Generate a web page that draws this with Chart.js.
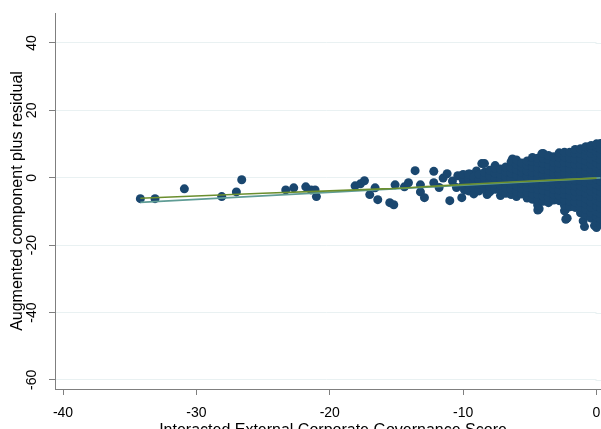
<!DOCTYPE html>
<html>
<head>
<meta charset="utf-8">
<script src="https://cdn.jsdelivr.net/npm/chart.js@4"></script>
<style>
  html, body { margin: 0; padding: 0; background: #fff; }
  #wrap { width: 601px; height: 429px; }
</style>
</head>
<body>
<div id="wrap"><canvas id="cpr" width="601" height="429"></canvas></div>
<script>
// axis ticks
const xTicks = [-40, -30, -20, -10, 0];
const yTicks = [40, 20, 0, -20, -40, -60];
const xTitle = 'Interacted External Corporate Governance Score';
const yTitle = 'Augmented component plus residual';

const sparsePts = [
  [-34.2, -6.2], [-33.1, -6.2], [-30.9, -3.3], [-28.1, -5.6], [-27.0, -4.2], [-26.6, -0.6],
  [-23.3, -3.6], [-22.7, -3.0], [-21.8, -2.7], [-21.4, -3.6], [-21.1, -3.6], [-21.0, -5.6],
  [-18.1, -2.4], [-17.7, -1.8], [-17.4, -0.9], [-16.6, -3.0], [-17.0, -5.0], [-16.4, -6.5],
  [-15.5, -7.4], [-15.2, -8.0], [-15.1, -2.1], [-14.4, -2.7], [-14.1, -1.5], [-13.6, 2.1],
  [-13.2, -2.1], [-13.2, -4.2], [-12.9, -5.9], [-12.2, 1.9], [-12.2, -1.5], [-11.8, -2.9],
  [-11.5, -0.1], [-11.2, 1.2], [-11.0, -6.8], [-10.5, -2.9], [-10.1, -5.9], [-9.5, 1.1],
  [-8.8, -3.9], [-8.6, 4.2], [-7.8, -2.9], [-7.3, 1.1], [-6.3, 5.6], [-6.2, 5.0],
  [-4.1, 7.1], [-4.4, -7.7], [-4.3, -9.2], [-3.5, -6.8], [-2.3, -9.3], [-2.2, -12.0],
  [-1.0, -12.8], [-0.9, -14.5], [-2.3, -12.3], [-0.15, -14.2], [0.0, 10.0],
  [-10.8, -1.0], [-10.4, 0.6], [-9.9, -3.6], [-9.0, 2.0], [-8.2, -5.0], [-7.6, 3.6]
];

// dense cloud near zero, column by column: [x, [y values]]
const cloudCols = [
  [-10.0, [-2.2, -0.6, 1.0]],
  [-9.6, [-3.9, -1.8, -0.3, 1.1]],
  [-9.2, [-4.8, -3.0, -1.4, 0.2]],
  [-8.8, [-3.6, -2.0, -0.6, 1.0]],
  [-8.4, [-3.2, -1.6, 0.0, 1.6, 4.2]],
  [-8.0, [-4.2, -2.6, -1.0, 0.6, 2.2]],
  [-7.6, [-3.4, -1.8, -0.2, 1.4, 2.8]],
  [-7.2, [-5.3, -3.8, -2.2, -0.6, 1.0, 2.6]],
  [-6.8, [-4.6, -3.0, -1.4, 0.2, 1.8, 3.2]],
  [-6.4, [-5.0, -3.4, -1.8, -0.2, 1.4, 3.0, 4.8]],
  [-6.0, [-5.6, -4.0, -2.4, -0.8, 0.8, 2.4, 4.0, 5.3]],
  [-5.6, [-4.8, -3.2, -1.6, 0.0, 1.6, 3.2, 4.4]],
  [-5.2, [-6.0, -4.4, -2.8, -1.2, 0.4, 2.0, 3.6, 5.0]],
  [-4.8, [-6.4, -4.8, -3.2, -1.6, 0.0, 1.6, 3.2, 4.8, 6.0]],
  [-4.4, [-9.6, -8.2, -6.6, -5.0, -3.4, -1.8, -0.2, 1.4, 3.0, 4.6, 5.8]],
  [-4.0, [-7.0, -5.4, -3.8, -2.2, -0.6, 1.0, 2.6, 4.2, 5.8, 7.2]],
  [-3.6, [-7.4, -5.8, -4.2, -2.6, -1.0, 0.6, 2.2, 3.8, 5.4, 6.6]],
  [-3.2, [-6.6, -5.0, -3.4, -1.8, -0.2, 1.4, 3.0, 4.6, 6.2]],
  [-2.8, [-6.8, -5.2, -3.6, -2.0, -0.4, 1.2, 2.8, 4.4, 6.0, 7.4]],
  [-2.4, [-9.8, -8.2, -6.6, -5.0, -3.4, -1.8, -0.2, 1.4, 3.0, 4.6, 6.2, 7.6]],
  [-2.0, [-8.6, -7.0, -5.4, -3.8, -2.2, -0.6, 1.0, 2.6, 4.2, 5.8, 7.6]],
  [-1.6, [-8.8, -7.2, -5.6, -4.0, -2.4, -0.8, 0.8, 2.4, 4.0, 5.6, 7.2, 8.4]],
  [-1.2, [-10.4, -8.8, -7.2, -5.6, -4.0, -2.4, -0.8, 0.8, 2.4, 4.0, 5.6, 7.2, 8.6]],
  [-0.8, [-11.0, -9.4, -7.8, -6.2, -4.6, -3.0, -1.4, 0.2, 1.8, 3.4, 5.0, 6.6, 8.2, 9.2]],
  [-0.4, [-12.0, -10.4, -8.8, -7.2, -5.6, -4.0, -2.4, -0.8, 0.8, 2.4, 4.0, 5.6, 7.2, 8.8, 9.6]],
  [0.0, [-14.8, -13.2, -11.6, -10.0, -8.4, -6.8, -5.2, -3.6, -2.0, -0.4, 1.2, 2.8, 4.4, 6.0, 7.6, 9.2, 10.0]],
  [0.3, [-13.8, -12.2, -10.6, -9.0, -7.4, -5.8, -4.2, -2.6, -1.0, 0.6, 2.2, 3.8, 5.4, 7.0, 8.6, 10.2]]
];

// linear fit line
const fitX = [-34.2, 0.3];
const fitY = [-7.3, -0.05];

// lowess line
const lowX = [-34.2, -25, -16, -11.8, -6, 0, 0.3];
const lowY = [-6.1, -4.6, -3.3, -2.4, -1.2, -0.1, -0.05];

const scatterData = sparsePts.map(p => ({x: p[0], y: p[1]}));
cloudCols.forEach(c => c[1].forEach(v => scatterData.push({x: c[0], y: v})));

const FONT = '"Liberation Sans", Arial, sans-serif';
const AXIS = '#7f7f7f';
const GRID = '#e9f1f2';
const CLIP = {left: 6, top: 6, right: 8, bottom: 6};

const stataText = {
  id: 'stataText',
  beforeDatasetsDraw(chart) {
    // the plot runs off the right edge of the picture: carry grid and axis line to the edge
    const ctx = chart.ctx;
    const y = chart.scales.y;
    const area = chart.chartArea;
    ctx.save();
    ctx.lineWidth = 1;
    ctx.strokeStyle = GRID;
    yTicks.forEach(v => {
      const py = Math.round(y.getPixelForValue(v)) + 0.5;
      ctx.beginPath(); ctx.moveTo(area.right - 1, py); ctx.lineTo(chart.width, py); ctx.stroke();
    });
    ctx.strokeStyle = AXIS;
    const by = Math.round(area.bottom) + 0.5;
    ctx.beginPath(); ctx.moveTo(area.right - 1, by); ctx.lineTo(chart.width, by); ctx.stroke();
    ctx.restore();
  },
  afterDraw(chart) {
    const ctx = chart.ctx;
    const y = chart.scales.y;
    const area = chart.chartArea;
    ctx.save();
    ctx.fillStyle = '#000';
    ctx.textAlign = 'center';
    ctx.textBaseline = 'middle';
    ctx.font = '14px ' + FONT;
    yTicks.forEach(v => {
      ctx.save();
      ctx.translate(32, y.getPixelForValue(v));
      ctx.rotate(-Math.PI / 2);
      ctx.fillText(String(v), 0, 0);
      ctx.restore();
    });
    ctx.font = '16px ' + FONT;
    ctx.save();
    ctx.translate(18, (area.top + area.bottom) / 2);
    ctx.rotate(-Math.PI / 2);
    ctx.fillText(yTitle, 0, 0);
    ctx.restore();
    ctx.fillText(xTitle, 333, 431);
    ctx.restore();
  }
};

new Chart(document.getElementById('cpr'), {
  type: 'scatter',
  data: {
    datasets: [
      {
        type: 'line', label: 'lowess',
        data: lowX.map((x, i) => ({x: x, y: lowY[i]})),
        borderColor: '#6b8e2e', borderWidth: 1.6, pointRadius: 0, tension: 0.3, order: 0, clip: CLIP
      },
      {
        type: 'line', label: 'fit',
        data: fitX.map((x, i) => ({x: x, y: fitY[i]})),
        borderColor: '#5f9c95', borderWidth: 1.6, pointRadius: 0, order: 1, clip: CLIP
      },
      {
        label: 'obs', data: scatterData,
        backgroundColor: '#1a476f', borderWidth: 0, pointRadius: 4.5, order: 2, clip: CLIP
      }
    ]
  },
  options: {
    responsive: false,
    animation: false,
    layout: { padding: { top: 13, left: 0, right: 0, bottom: 0 } },
    plugins: { legend: { display: false }, tooltip: { enabled: false } },
    scales: {
      x: {
        type: 'linear', min: -40.6, max: 0,
        afterBuildTicks: s => { s.ticks = xTicks.map(v => ({value: v})); },
        afterFit: s => { s.height = 40; s.paddingLeft = 0; s.paddingRight = 0; },
        border: { color: AXIS, width: 1 },
        grid: { color: 'rgba(0,0,0,0)', tickColor: AXIS, tickLength: 6 },
        ticks: { color: '#000', font: { family: FONT, size: 14 }, padding: 10, maxRotation: 0 }
      },
      y: {
        type: 'linear', min: -62.7, max: 48.9,
        afterBuildTicks: s => { s.ticks = yTicks.map(v => ({value: v})); },
        afterFit: s => { s.width = 55; },
        border: { color: AXIS, width: 1 },
        grid: { color: GRID, tickColor: AXIS, tickLength: 6 },
        ticks: { color: 'rgba(0,0,0,0)', font: { family: FONT, size: 14 } }
      }
    }
  },
  plugins: [stataText]
});
</script>
</body>
</html>
